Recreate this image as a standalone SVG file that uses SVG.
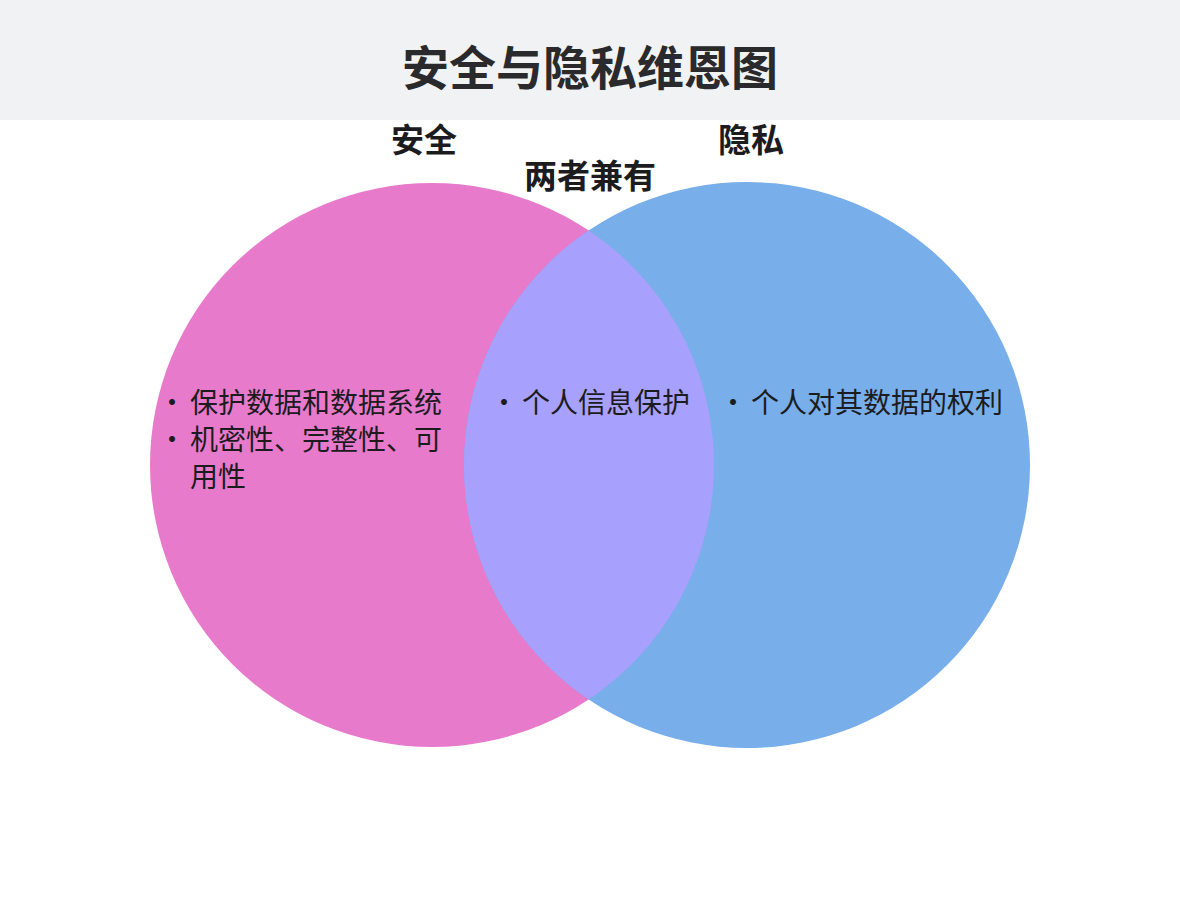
<svg xmlns="http://www.w3.org/2000/svg" width="1180" height="912" viewBox="0 0 1180 912">
<style>
text{font-family:"Noto Sans CJK SC","Noto Sans",sans-serif;fill:#1c1c1e}
.title{font-size:47px;font-weight:700;fill:#2a2a2c}
.set{font-size:33px;font-weight:700}
.item{font-size:28px}
.bul{font-size:28px;text-anchor:middle}
</style>
<defs>
<clipPath id="clipL"><circle cx="432" cy="465" r="282"/></clipPath>
</defs>
<rect x="0" y="0" width="1180" height="912" fill="#ffffff"/>
<rect x="0" y="0" width="1180" height="120" fill="#f1f2f3"/>
<text class="title" x="590" y="85" text-anchor="middle">安全与隐私维恩图</text>
<g id="circle-security">
<circle cx="432" cy="465" r="282" fill="#e87acc"/>
</g>
<g id="circle-privacy">
<circle cx="747" cy="465" r="283" fill="#78aeea"/>
</g>
<g id="overlap">
<circle cx="747" cy="465" r="283" fill="#a7a0fc" clip-path="url(#clipL)"/>
</g>
<g id="labels">
<text class="set" x="424" y="152" text-anchor="middle">安全</text>
<text class="set" x="751" y="152" text-anchor="middle">隐私</text>
<text class="set" x="590" y="188" text-anchor="middle">两者兼有</text>
</g>
<g id="security-items">
<text class="bul" x="172" y="413">•</text>
<text class="item" x="190" y="413">保护数据和数据系统</text>
<text class="bul" x="172" y="450">•</text>
<text class="item" x="190" y="450">机密性、完整性、可</text>
<text class="item" x="190" y="487">用性</text>
</g>
<g id="both-items">
<text class="bul" x="504" y="413">•</text>
<text class="item" x="522" y="413">个人信息保护</text>
</g>
<g id="privacy-items">
<text class="bul" x="733" y="413">•</text>
<text class="item" x="751" y="413">个人对其数据的权利</text>
</g>
</svg>
